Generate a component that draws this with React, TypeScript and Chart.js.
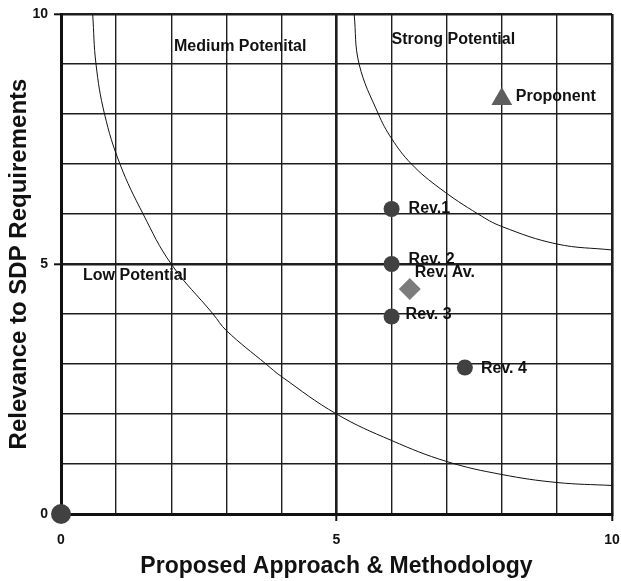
import React, { useEffect, useRef } from 'react';
import { Chart, registerables } from 'chart.js';

Chart.register(...registerables);

// ---- data ----
const xTitle = 'Proposed Approach & Methodology';
const yTitle = 'Relevance to SDP Requirements';
const majorTicks = [0, 5, 10];

const originX = [0];
const originY = [0];

const reviewerNames = ['Rev.1', 'Rev. 2', 'Rev. 3', 'Rev. 4'];
const reviewerX = [6, 6, 6, 7.33];
const reviewerY = [6.1, 5.0, 3.95, 2.93];

const averageNames = ['Rev. Av.'];
const averageX = [6.33];
const averageY = [4.5];

const proponentNames = ['Proponent'];
const proponentX = [8.0];
const proponentY = [8.3];

const lowCurveX = [0.575, 0.635, 0.79, 1.07, 1.49, 2.0, 2.76, 3.0, 3.72, 4.0, 5.0, 6.0, 7.0, 8.0, 9.0, 10.0];
const lowCurveY = [10, 9, 8, 7, 6, 5, 4, 3.67, 3.0, 2.75, 2.0, 1.47, 1.05, 0.79, 0.63, 0.57];

const highCurveX = [5.32, 5.41, 5.76, 6.0, 6.36, 6.88, 7.57, 8.0, 9.0, 10.0];
const highCurveY = [10, 9, 8, 7.51, 7, 6.51, 6, 5.75, 5.4, 5.28];

const zoneNames = ['Medium Potenital', 'Strong Potential', 'Low Potential'];
const zoneX = [2.05, 6.0, 0.4];
const zoneY = [9.34, 9.48, 4.76];

// ---- styling (pixels) ----
const FAMILY = '"Liberation Sans", Arial, sans-serif';
const LABEL_FONT = 'bold 16px ' + FAMILY;
const reviewerLabelOffsets = [[17, 0], [17, -4], [14, -2], [16, 1]];
const averageLabelOffsets = [[5, -16]];
const proponentLabelOffsets = [[14, -2]];
const zoneLabelOffsets = [[0, 0], [0, 0], [0, 0]];

const toPts = (xs: number[], ys: number[]) => xs.map((x, i) => ({ x, y: ys[i] }));

const labelsPlugin = {
  id: 'textLabels',
  afterDatasetsDraw(chart: any) {
    const { ctx, scales } = chart;
    const xs = scales.x;
    const ys = scales.y;
    ctx.save();
    ctx.font = LABEL_FONT;
    ctx.fillStyle = '#111';
    ctx.textAlign = 'left';
    ctx.textBaseline = 'middle';
    const draw = (names: string[], px: number[], py: number[], offs: number[][]) => {
      names.forEach((n, i) => {
        const o = offs[i];
        ctx.fillText(n, xs.getPixelForValue(px[i]) + o[0], ys.getPixelForValue(py[i]) + o[1]);
      });
    };
    draw(zoneNames, zoneX, zoneY, zoneLabelOffsets);
    draw(reviewerNames, reviewerX, reviewerY, reviewerLabelOffsets);
    draw(averageNames, averageX, averageY, averageLabelOffsets);
    draw(proponentNames, proponentX, proponentY, proponentLabelOffsets);
    ctx.restore();
  },
};

const gridWidth = (ctx: any) => {
  const v = ctx.tick ? ctx.tick.value : null;
  if (v === 5 || v === 0 || v === 10) return 2.6;
  return 1.4;
};
const tickColor = (ctx: any) => {
  const v = ctx.tick ? ctx.tick.value : null;
  return majorTicks.includes(v) ? '#111' : 'rgba(0,0,0,0)';
};
const tickLabel = (v: any) => (majorTicks.includes(Number(v)) ? String(v) : '');

export default function App() {
  const ref = useRef<HTMLCanvasElement | null>(null);
  useEffect(() => {
    if (!ref.current) return;
    const chart = new Chart(ref.current, {
      type: 'scatter',
      data: {
        datasets: [
          {
            label: 'Origin',
            data: toPts(originX, originY),
            pointRadius: 10,
            pointBackgroundColor: '#414141',
            pointBorderWidth: 0,
            clip: false,
          } as any,
          {
            label: 'Reviewers',
            data: toPts(reviewerX, reviewerY),
            pointRadius: 8,
            pointBackgroundColor: '#414141',
            pointBorderWidth: 0,
            clip: false,
          },
          {
            label: 'Average',
            data: toPts(averageX, averageY),
            pointStyle: 'rectRot',
            pointRadius: 11,
            pointBackgroundColor: '#7c7c7c',
            pointBorderWidth: 0,
          },
          {
            label: 'Proponent',
            data: toPts(proponentX, proponentY),
            pointStyle: 'triangle',
            pointRadius: 12,
            pointBackgroundColor: '#5e5e5e',
            pointBorderWidth: 0,
          },
          {
            label: 'Low',
            data: toPts(lowCurveX, lowCurveY),
            showLine: true,
            pointRadius: 0,
            borderColor: '#111',
            borderWidth: 1,
            tension: 0.4,
          } as any,
          {
            label: 'High',
            data: toPts(highCurveX, highCurveY),
            showLine: true,
            pointRadius: 0,
            borderColor: '#111',
            borderWidth: 1,
            tension: 0.4,
          } as any,
        ],
      },
      options: {
        responsive: false,
        animation: false,
        layout: { padding: { top: 14, right: 9, left: 0, bottom: 0 } },
        plugins: { legend: { display: false }, tooltip: { enabled: false } },
        scales: {
          x: {
            type: 'linear',
            min: 0,
            max: 10,
            afterFit: (s: any) => { s.height = 67; s.paddingLeft = 0; s.paddingRight = 0; },
            ticks: {
              stepSize: 1,
              autoSkip: false,
              maxRotation: 0,
              callback: tickLabel,
              color: '#111',
              padding: 0,
              font: { family: FAMILY, size: 14, weight: 'bold', lineHeight: 2.7 },
            },
            grid: { color: '#1e1e1e', lineWidth: gridWidth, tickLength: 7, tickColor, tickWidth: 2 },
            border: { display: true, color: '#111', width: 3 },
            title: {
              display: true,
              text: xTitle,
              color: '#111',
              padding: { top: 0, bottom: 3 },
              font: { family: FAMILY, size: 23, weight: 'bold', lineHeight: 1 },
            },
          },
          y: {
            type: 'linear',
            min: 0,
            max: 10,
            afterFit: (s: any) => { s.width = 61; s.paddingTop = 0; s.paddingBottom = 0; },
            ticks: {
              stepSize: 1,
              autoSkip: false,
              callback: tickLabel,
              color: '#111',
              padding: 6,
              font: { family: FAMILY, size: 14, weight: 'bold', lineHeight: 1 },
            },
            grid: { color: '#1e1e1e', lineWidth: gridWidth, tickLength: 7, tickColor, tickWidth: 2 },
            border: { display: true, color: '#111', width: 3 },
            title: {
              display: true,
              text: yTitle,
              color: '#111',
              padding: { top: 7, bottom: 0 },
              font: { family: FAMILY, size: 24, weight: 'bold', lineHeight: 1 },
            },
          },
        },
      } as any,
      plugins: [labelsPlugin],
    });
    return () => chart.destroy();
  }, []);
  return (
    <div style={{ position: 'absolute', left: 0, top: 0, width: 621, height: 581, overflow: 'hidden', background: '#fff' }}>
      <canvas ref={ref} width={624} height={581} style={{ display: 'block' }} />
    </div>
  );
}
